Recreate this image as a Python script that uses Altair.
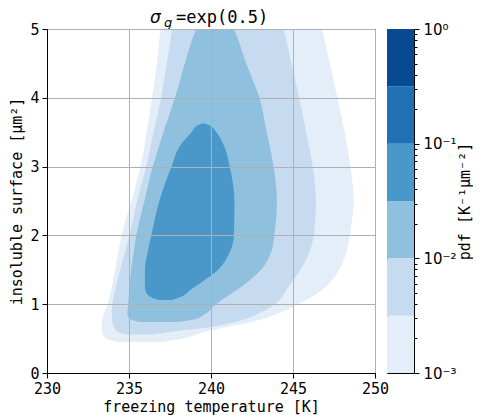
import altair as alt
import pandas as pd

# ---- contour regions (y, left x, right x) ----
l1_y  = [0.45, 0.50, 0.60, 0.75, 1.00, 1.25, 1.50, 1.75, 2.00, 2.50, 3.00, 3.50, 4.00, 4.50, 5.00, 5.30]
l1_xl = [234.3, 233.6, 233.35, 233.35, 233.7, 233.95, 234.15, 234.35, 234.55, 235.15, 235.7, 236.08, 236.41, 236.7, 236.92, 237.05]
l1_xr = [237.0, 238.3, 239.6, 242.6, 245.3, 247.0, 247.8, 248.25, 248.45, 248.7, 248.5, 248.15, 247.7, 247.25, 246.77, 246.45]

l2_y  = [0.56, 0.60, 0.67, 0.75, 0.90, 1.00, 1.25, 1.50, 1.75, 2.00, 2.50, 3.00, 3.50, 4.00, 4.50, 5.00, 5.30]
l2_xl = [234.8, 234.3, 234.1, 233.98, 233.95, 233.98, 234.2, 234.46, 234.75, 235.03, 235.5, 236.05, 236.5, 236.96, 237.3, 237.63, 237.8]
l2_xr = [236.5, 237.6, 240.0, 241.6, 243.2, 243.9, 244.7, 245.45, 245.99, 246.26, 246.4, 246.2, 245.8, 245.38, 244.9, 244.43, 244.1]

l3_y  = [0.74, 0.78, 0.85, 1.00, 1.25, 1.50, 1.75, 2.00, 2.50, 3.00, 3.50, 4.00, 4.50, 5.00, 5.20]
l3_xl = [235.6, 235.1, 234.9, 234.95, 235.03, 235.13, 235.28, 235.44, 235.94, 236.45, 237.1, 237.8, 238.4, 239.1, 239.5]
l3_xr = [238.0, 239.0, 239.6, 240.3, 241.83, 243.05, 243.66, 243.86, 244.02, 243.82, 243.4, 242.95, 242.15, 241.4, 241.0]

l4_y  = [1.06, 1.10, 1.20, 1.25, 1.50, 1.75, 2.00, 2.50, 3.00, 3.30, 3.50, 3.60, 3.63]
l4_xl = [236.8, 236.35, 236.0, 235.97, 235.97, 236.13, 236.36, 236.85, 237.59, 238.1, 238.81, 239.2, 239.5]
l4_xr = [237.6, 238.1, 238.7, 239.0, 240.43, 241.14, 241.4, 241.43, 241.14, 240.8, 240.33, 239.9, 239.55]

# ---- colour bands (pdf levels) ----
band_lo = [0.001, 0.003162, 0.01, 0.03162, 0.1, 0.3162]
band_hi = [0.003162, 0.01, 0.03162, 0.1, 0.3162, 1.0]
band_colors = ["#e3eef9", "#c6dbef", "#8fc1de", "#4a98c9", "#2070b4", "#084a91"]

major_ticks = [0.001, 0.01, 0.1, 1.0]
major_labels = ["10⁻³", "10⁻²", "10⁻¹", "10⁰"]
minor_ticks = [0.002, 0.003, 0.004, 0.005, 0.006, 0.007, 0.008, 0.009,
               0.02, 0.03, 0.04, 0.05, 0.06, 0.07, 0.08, 0.09,
               0.2, 0.3, 0.4, 0.5, 0.6, 0.7, 0.8, 0.9]

x_ticks = [230, 235, 240, 245, 250]
y_ticks = [0, 1, 2, 3, 4, 5]

title_parts = ["σ", "g", "=exp(0.5)"]

MONO = "DejaVu Sans Mono"
W, H = 328, 344

levels = [(l1_y, l1_xl, l1_xr), (l2_y, l2_xl, l2_xr), (l3_y, l3_xl, l3_xr), (l4_y, l4_xl, l4_xr)]

xscale = alt.Scale(domain=[230, 250], nice=False, zero=False)
yscale = alt.Scale(domain=[0, 5], nice=False, zero=False)
xaxis = alt.Axis(values=x_ticks, title="freezing temperature [K]", grid=True, zindex=1,
                 format="d", labelFlush=False, titlePadding=3)
yaxis = alt.Axis(values=y_ticks, title="insoluble surface [μm²]", grid=True, zindex=1,
                 format="d", labelFlush=False)

layers = []
for i, (yy, xl, xr) in enumerate(levels):
    df = pd.DataFrame({"y": yy, "xl": xl, "xr": xr})
    layers.append(
        alt.Chart(df).mark_area(orient="horizontal", clip=True, color=band_colors[i],
                                interpolate="monotone", opacity=1)
        .encode(
            y=alt.Y("y:Q", scale=yscale, axis=yaxis),
            x=alt.X("xl:Q", scale=xscale, axis=xaxis),
            x2="xr:Q",
        )
    )

tdf = pd.DataFrame({"t": title_parts})
t1 = alt.Chart(tdf.iloc[[0]]).mark_text(font="DejaVu Sans", fontStyle="italic", fontSize=17,
                                         align="left", baseline="alphabetic", color="black"
                                         ).encode(text="t:N", x=alt.value(103), y=alt.value(-6))
t2 = alt.Chart(tdf.iloc[[1]]).mark_text(font="DejaVu Sans", fontStyle="italic", fontSize=13,
                                         align="left", baseline="alphabetic", color="black"
                                         ).encode(text="t:N", x=alt.value(117), y=alt.value(-2))
t3 = alt.Chart(tdf.iloc[[2]]).mark_text(font=MONO, fontSize=17,
                                         align="left", baseline="alphabetic", color="black"
                                         ).encode(text="t:N", x=alt.value(129), y=alt.value(-6))

main = alt.layer(*layers, t1, t2, t3).properties(width=W, height=H)

# ---- colour bar ----
bdf = pd.DataFrame({"lo": band_lo, "hi": band_hi, "band": [str(i) for i in range(len(band_lo))]})
lab_expr = " : ".join(
    [f"datum.value == {v} ? '{s}'" for v, s in zip(major_ticks, major_labels)]) + " : ''"
major_test = "indexof([" + ",".join(str(v) for v in major_ticks) + "], datum.value) >= 0"

cbar = alt.Chart(bdf).mark_rect().encode(
    y=alt.Y("lo:Q", scale=alt.Scale(type="log", domain=[0.001, 1], nice=False),
            axis=alt.Axis(orient="right", values=major_ticks + minor_ticks, labelExpr=lab_expr,
                          title="pdf  [K⁻¹μm⁻²]", titleAngle=270, titleBaseline="top",
                          titlePadding=1,
                          domain=False, grid=False, labelPadding=4, labelFontSize=15,
                          labelFont="DejaVu Sans",
                          tickSize={"condition": {"test": major_test, "value": 5}, "value": 3},
                          labelOverlap=False, labelBound=False, labelFlush=False)),
    y2="hi:Q",
    color=alt.Color("band:N", scale=alt.Scale(domain=[str(i) for i in range(len(band_lo))],
                                              range=band_colors), legend=None),
).properties(width=27, height=H)

chart = alt.hconcat(main, cbar, spacing=12, bounds="flush").configure_view(
    stroke="black", strokeWidth=1
).configure_axis(
    labelFont=MONO, titleFont=MONO, labelFontSize=15, titleFontSize=15,
    labelColor="black", titleColor="black", tickColor="black", domainColor="black",
    gridColor="#b0b0b0", gridWidth=1, tickSize=5, labelPadding=3, titlePadding=5,
    titleFontWeight="normal",
).properties(padding={"left": 1, "top": 0, "right": 0, "bottom": 0})

chart.save("out.html", embed_options={"renderer": "svg", "actions": False})
